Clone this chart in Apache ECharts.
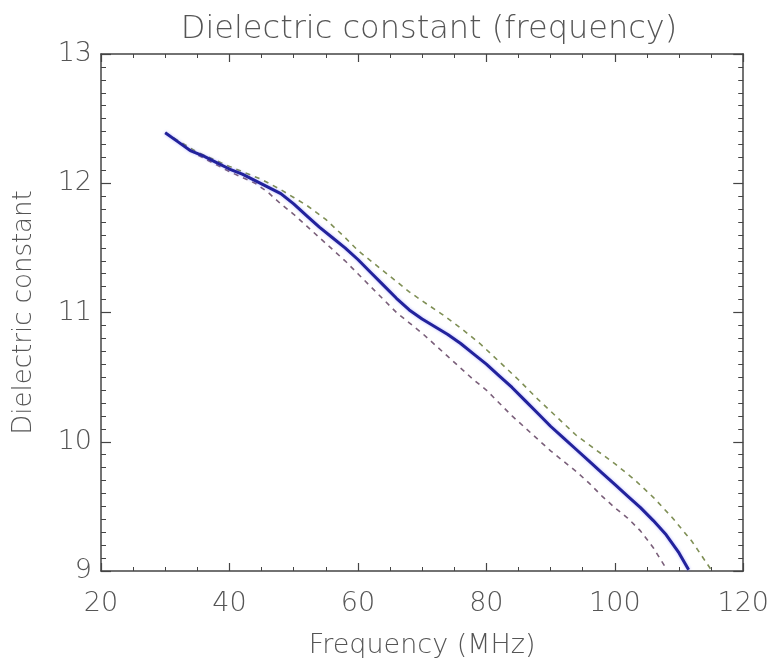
<!DOCTYPE html>
<html>
<head>
<meta charset="utf-8">
<script src="https://cdn.jsdelivr.net/npm/echarts@6/dist/echarts.min.js"></script>
<style>
html,body{margin:0;padding:0;background:#fff;}
#c{width:772px;height:664px;}
</style>
</head>
<body>
<div id="c"></div>
<script>
// Measured dielectric constant (solid) and upper / lower bounds (dashed)
const mainFreq = [30,32,34,36,38,40,42,44,46,48,50,52,54,56,58,60,62,64,66,68,70,72,74,76,78,80,82,84,86,88,90,92,94,96,98,100,102,104,106,108,110,111.5];
const mainVals = [12.39,12.32,12.25,12.21,12.16,12.11,12.07,12.02,11.97,11.92,11.84,11.75,11.66,11.58,11.50,11.41,11.31,11.21,11.11,11.02,10.95,10.89,10.83,10.76,10.68,10.60,10.51,10.42,10.32,10.22,10.12,10.03,9.94,9.85,9.76,9.67,9.58,9.49,9.39,9.28,9.14,9.01];

const upperFreq = [30,35,40,45,48,50,52,55,58,60,62,64,66,68,70,73,76,79,82,85,88,91,94,97,100,103,106,109,112,115];
const upperVals = [12.39,12.24,12.13,12.03,11.95,11.89,11.83,11.72,11.58,11.48,11.40,11.32,11.24,11.16,11.09,10.99,10.88,10.76,10.62,10.48,10.33,10.19,10.05,9.94,9.83,9.71,9.57,9.41,9.23,9.01];

const lowerFreq = [30,35,40,44,46,48,50,52,54,56,58,60,62,64,66,68,70,72,74,76,78,80,82,84,86,88,90,92,94,96,98,100,102,104,106,108];
const lowerVals = [12.39,12.22,12.09,12.00,11.93,11.84,11.76,11.67,11.58,11.49,11.40,11.30,11.20,11.10,11.00,10.92,10.84,10.75,10.66,10.57,10.48,10.40,10.30,10.20,10.11,10.02,9.93,9.85,9.77,9.68,9.58,9.49,9.41,9.31,9.18,9.02];

const xTicks = [20,40,60,80,100,120];
const yTicks = [9,10,11,12,13];

const pairs = (xs, ys) => xs.map((x, i) => [x, ys[i]]);

const FONT = 'DejaVu Sans';
const TXT = '#555';
const AX = '#444';

const chart = echarts.init(document.getElementById('c'), null, {renderer:'canvas'});
const xCommon = {
  type:'value', min:xTicks[0], max:xTicks[xTicks.length-1], interval:20,
  axisLine:{show:true, lineStyle:{color:AX, width:1.5}},
  axisTick:{show:true, inside:true, length:8, lineStyle:{color:AX, width:1.2}},
  minorTick:{show:true, splitNumber:4, length:4, lineStyle:{color:AX, width:1}},
  splitLine:{show:false}
};
const yCommon = {
  type:'value', min:yTicks[0], max:yTicks[yTicks.length-1], interval:1,
  axisLine:{show:true, lineStyle:{color:AX, width:1.5}},
  axisTick:{show:true, inside:true, length:10, lineStyle:{color:AX, width:1.2}},
  minorTick:{show:true, splitNumber:10, length:5, lineStyle:{color:AX, width:1}},
  splitLine:{show:false}
};
chart.setOption({
  animation:false,
  backgroundColor:'#fff',
  title:{
    text:'Dielectric constant (frequency)',
    left:424, top:9, textAlign:'center',
    textStyle:{fontFamily:FONT, fontWeight:200, fontSize:32, color:TXT}
  },
  grid:{left:101, right:24, top:54, bottom:88, containLabel:false},
  xAxis:[
    Object.assign({}, xCommon, {
      position:'bottom',
      name:'Frequency (MHz)', nameLocation:'middle', nameGap:61,
      nameTextStyle:{fontFamily:FONT, fontWeight:200, fontSize:27, color:TXT},
      axisLabel:{show:true, margin:19, fontFamily:FONT, fontWeight:200, fontSize:27, color:TXT,
        formatter:v => xTicks.includes(v) ? String(v) : ''}
    }),
    Object.assign({}, xCommon, {position:'top', axisLabel:{show:false}})
  ],
  yAxis:[
    Object.assign({}, yCommon, {
      position:'left',
      name:'Dielectric constant', nameLocation:'middle', nameGap:64,
      nameTextStyle:{fontFamily:FONT, fontWeight:200, fontSize:26, color:TXT},
      axisLabel:{show:true, margin:9, fontFamily:FONT, fontWeight:200, fontSize:27, color:TXT,
        formatter:v => yTicks.includes(v) ? String(v) : ''}
    }),
    Object.assign({}, yCommon, {position:'right', axisLabel:{show:false}})
  ],
  series:[
    {type:'line', xAxisIndex:0, yAxisIndex:0, data:pairs(upperFreq, upperVals), showSymbol:false,
      lineStyle:{color:'#7f8f55', width:1.6, type:[5,5]}, z:2},
    {type:'line', xAxisIndex:0, yAxisIndex:0, data:pairs(lowerFreq, lowerVals), showSymbol:false,
      lineStyle:{color:'#7a5f7a', width:1.6, type:[5,5]}, z:2},
    {type:'line', xAxisIndex:0, yAxisIndex:0, data:pairs(mainFreq, mainVals), showSymbol:false,
      lineStyle:{color:'#22229c', width:3, shadowColor:'rgba(90,90,255,0.45)', shadowBlur:3}, z:3}
  ]
});
</script>
</body>
</html>
